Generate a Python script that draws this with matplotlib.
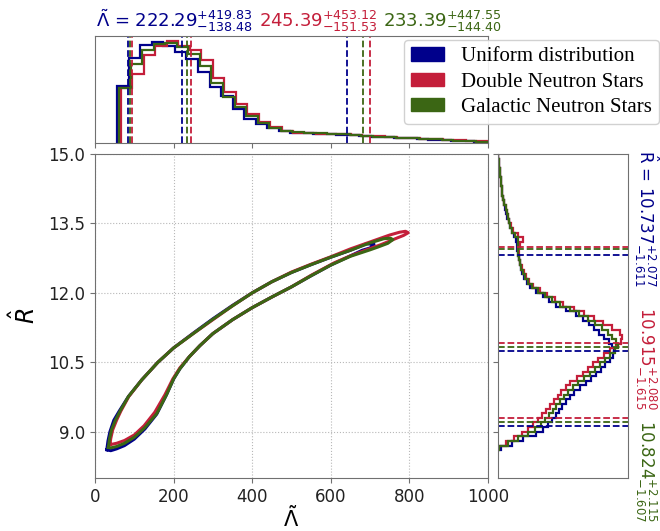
import matplotlib
matplotlib.use('Agg')
import matplotlib.pyplot as plt
import numpy as np
from matplotlib.patches import Patch

# ---------------- data ----------------
labels = ["Uniform distribution", "Double Neutron Stars", "Galactic Neutron Stars"]
colors = ["#00008B", "#C41E3A", "#3B6614"]

# Lambda-tilde histograms (step), bin start, bin width, heights (arbitrary units)
lam_bin_width = 29.3
lam_start_blue = 57.0
lam_start_red = 65.0
lam_start_green = 62.0
lam_hist_blue = [57, 85, 98, 101, 97, 91, 84, 71, 56, 47, 34, 24, 19, 15, 12, 10,
                 9.5, 9, 8.5, 8, 7.5, 6.5, 6, 5.5, 5, 4.5, 4, 3.3, 2.8, 2.2, 1.7, 1.3, 1.0]
lam_hist_red = [55, 69, 88, 97, 102, 97, 93, 83, 65, 51, 39, 29, 21, 16, 11.5, 10,
                9.7, 9.3, 9, 8.5, 8, 7.3, 6.6, 6, 5.4, 4.8, 4.2, 3.6, 3.0, 2.5, 2.0, 1.6, 1.2]
lam_hist_green = [55, 79, 93, 99, 100, 96, 89, 77, 60, 46, 36, 27, 20, 15, 12, 10.5,
                  10, 9.5, 9, 8.5, 7.8, 7, 6.4, 5.8, 5.2, 4.6, 4.0, 3.5, 3.0, 2.4, 1.9, 1.4, 1.1]

# Lambda-tilde quantiles (median, +, -)
lam_med = [222.29, 245.39, 233.39]
lam_plus = [419.83, 453.12, 447.55]
lam_minus = [138.48, 151.53, 144.40]

# R-hat histograms: bins of 0.1 from 8.6 to 15.0
r_bin_start = 8.6
r_bin_width = 0.1
r_hist_blue = [3, 14, 25, 38, 45, 50, 54, 58, 61, 64, 68, 72, 76, 82, 88, 93, 98, 103, 107, 112,
               115, 116, 114, 111, 106, 101, 96, 91, 85, 78, 68, 58, 51, 45, 38, 32, 29, 26, 24, 23,
               22, 21, 20, 19, 19, 18, 16, 14, 12, 11, 9, 8, 7, 6, 5, 4, 3.5, 3, 2.5, 2, 1.5, 1, 0.5, 0.3]
r_hist_red = [0, 8, 16, 24, 30, 35, 40, 44, 48, 52, 56, 60, 63, 68, 72, 79, 85, 90, 95, 100,
              106, 112, 118, 123, 124, 122, 114, 105, 96, 86, 76, 65, 57, 49, 42, 35, 31, 28, 26, 24,
              22, 21, 21, 20, 22, 25, 20, 15, 13, 11, 10, 9, 8, 6, 5, 4, 3.5, 3, 2.5, 2, 1.5, 1, 0.5, 0.3]
r_hist_green = [1, 10, 20, 30, 37, 43, 47, 51, 55, 58, 62, 66, 70, 75, 80, 86, 92, 97, 102, 107,
                112, 117, 120, 118, 114, 110, 104, 97, 90, 81, 72, 62, 54, 47, 40, 34, 30, 27, 25, 23,
                22, 21, 20, 20, 20, 20, 17, 14, 12, 11, 9.5, 8.5, 7.5, 6, 5, 4, 3.5, 3, 2.5, 2, 1.5, 1, 0.5, 0.3]

r_med = [10.737, 10.915, 10.824]
r_plus = [2.077, 2.080, 2.115]
r_minus = [1.611, 1.615, 1.607]

# 2D credible contours (closed outlines), Lambda-tilde and R-hat
cont_blue_lam = [30, 33, 38, 48, 62, 85, 119, 160, 200, 250, 300, 350, 400, 450, 500, 550, 600, 650, 690, 710,
                 700, 680, 650, 600, 550, 500, 450, 400, 350, 300, 267, 240, 216, 200, 182, 157, 127, 100, 75, 55, 40, 30]
cont_blue_r = [8.61, 8.80, 9.00, 9.25, 9.45, 9.76, 10.12, 10.50, 10.81, 11.13, 11.44, 11.73, 12.00, 12.24, 12.44, 12.61, 12.77, 12.92, 13.06, 13.05,
               12.97, 12.92, 12.80, 12.60, 12.37, 12.13, 11.91, 11.68, 11.42, 11.12, 10.86, 10.62, 10.36, 10.14, 9.80, 9.38, 9.06, 8.84, 8.70, 8.63, 8.59, 8.61]
cont_red_lam = [38, 40, 45, 55, 66, 86, 119, 160, 200, 250, 300, 350, 400, 450, 500, 550, 600, 650, 700, 750, 775, 790, 797,
                785, 770, 727, 694, 650, 609, 550, 500, 450, 400, 350, 300, 267, 240, 216, 198, 178, 152, 125, 100, 75, 55, 38]
cont_red_r = [8.72, 8.85, 9.04, 9.25, 9.45, 9.76, 10.12, 10.50, 10.81, 11.12, 11.42, 11.72, 12.00, 12.24, 12.45, 12.62, 12.78, 12.95, 13.10, 13.25, 13.31, 13.33, 13.30,
              13.24, 13.19, 13.04, 12.94, 12.80, 12.65, 12.38, 12.13, 11.91, 11.68, 11.42, 11.12, 10.86, 10.62, 10.38, 10.14, 9.80, 9.42, 9.13, 8.93, 8.81, 8.75, 8.72]
cont_green_lam = [34, 37, 42, 52, 64, 85, 119, 160, 200, 250, 300, 350, 400, 450, 500, 550, 600, 650, 700, 735, 752, 758,
                  745, 720, 700, 650, 600, 550, 500, 450, 400, 350, 300, 267, 240, 216, 200, 182, 157, 127, 100, 75, 55, 40, 34]
cont_green_r = [8.66, 8.85, 9.04, 9.25, 9.45, 9.76, 10.12, 10.50, 10.81, 11.12, 11.43, 11.72, 12.00, 12.24, 12.44, 12.61, 12.77, 12.92, 13.08, 13.17, 13.18, 13.15,
                13.07, 12.99, 12.93, 12.79, 12.60, 12.37, 12.13, 11.91, 11.68, 11.42, 11.12, 10.86, 10.62, 10.36, 10.14, 9.80, 9.39, 9.09, 8.88, 8.75, 8.68, 8.65, 8.66]

x_ticks = [0, 200, 400, 600, 800, 1000]
y_ticks = [9.0, 10.5, 12.0, 13.5, 15.0]

# ---------------- figure ----------------
W, H = 660, 531
fig = plt.figure(figsize=(W / 100, H / 100), dpi=100)

def fa(x0, y0, x1, y1):
    return [x0 / W, 1 - y1 / H, (x1 - x0) / W, (y1 - y0) / H]

ax_main = fig.add_axes(fa(95, 154, 488, 478))
ax_top = fig.add_axes(fa(95, 36, 488, 143))
ax_right = fig.add_axes(fa(498, 154, 628, 478))

spine_col = "#707070"
for ax in (ax_main, ax_top, ax_right):
    for s in ax.spines.values():
        s.set_color(spine_col)
    ax.tick_params(color=spine_col, labelcolor="#222222", labelsize=12)

# main contours
ax_main.plot(cont_blue_lam, cont_blue_r, color=colors[0], lw=2.2)
ax_main.plot(cont_red_lam, cont_red_r, color=colors[1], lw=2.2)
ax_main.plot(cont_green_lam, cont_green_r, color=colors[2], lw=2.2)
ax_main.set_xlim(0, 1000)
ax_main.set_ylim(8.0, 15.0)
ax_main.set_xticks(x_ticks)
ax_main.set_yticks(y_ticks)
ax_main.set_yticklabels([f"{v:.1f}" for v in y_ticks])
ax_main.grid(True, ls=":", color="#b8b8b8", lw=0.8)
ax_main.set_axisbelow(True)
ax_main.set_xlabel(r"$\tilde{\Lambda}$", fontsize=15)
ax_main.xaxis.set_label_coords(0.5, -0.085)
ax_main.xaxis.label.set_verticalalignment("top")
ax_main.set_ylabel(r"$\hat{R}$", fontsize=17, labelpad=6)

# top histogram
lam_starts = [lam_start_blue, lam_start_red, lam_start_green]
lam_hists = [lam_hist_blue, lam_hist_red, lam_hist_green]
for st, hv, c in zip(lam_starts, lam_hists, colors):
    edges = st + lam_bin_width * np.arange(len(hv) + 1)
    ax_top.stairs(hv, edges, color=c, lw=1.6, baseline=0)
for m, p, mi, c in zip(lam_med, lam_plus, lam_minus, colors):
    for v in (m - mi, m, m + p):
        ax_top.axvline(v, color=c, ls="--", lw=1.3)
ax_top.set_xlim(0, 1000)
ax_top.set_ylim(0, 107)
ax_top.set_xticks(x_ticks)
ax_top.set_xticklabels([])
ax_top.set_yticks([])

# right histogram
r_hists = [r_hist_blue, r_hist_red, r_hist_green]
for hv, c in zip(r_hists, colors):
    edges = r_bin_start + r_bin_width * np.arange(len(hv) + 1)
    ax_right.stairs(hv, edges, color=c, lw=1.6, baseline=0, orientation="horizontal")
for m, p, mi, c in zip(r_med, r_plus, r_minus, colors):
    for v in (m - mi, m, m + p):
        ax_right.axhline(v, color=c, ls="--", lw=1.3)
ax_right.set_ylim(8.0, 15.0)
ax_right.set_xlim(0, 130)
ax_right.set_yticks(y_ticks)
ax_right.set_yticklabels([])
ax_right.set_xticks([])

# titles (top)
tsize = 13
fig.text(96 / W, 1 - 21 / H,
         r"$\tilde{\Lambda}$ = " + rf"${lam_med[0]:.2f}^{{+{lam_plus[0]:.2f}}}_{{-{lam_minus[0]:.2f}}}$",
         color=colors[0], fontsize=tsize, ha="left", va="center")
fig.text(259 / W, 1 - 21 / H,
         rf"${lam_med[1]:.2f}^{{+{lam_plus[1]:.2f}}}_{{-{lam_minus[1]:.2f}}}$",
         color=colors[1], fontsize=tsize, ha="left", va="center")
fig.text(383 / W, 1 - 21 / H,
         rf"${lam_med[2]:.2f}^{{+{lam_plus[2]:.2f}}}_{{-{lam_minus[2]:.2f}}}$",
         color=colors[2], fontsize=tsize, ha="left", va="center")

# titles (right, rotated)
rsize = 12
fig.text(646 / W, 1 - 150 / H,
         r"$\hat{\mathrm{R}}$ = " + rf"${r_med[0]:.3f}^{{+{r_plus[0]:.3f}}}_{{-{r_minus[0]:.3f}}}$",
         color=colors[0], fontsize=rsize, rotation=-90, ha="center", va="top")
fig.text(646 / W, 1 - 307 / H,
         rf"${r_med[1]:.3f}^{{+{r_plus[1]:.3f}}}_{{-{r_minus[1]:.3f}}}$",
         color=colors[1], fontsize=rsize, rotation=-90, ha="center", va="top")
fig.text(646 / W, 1 - 420 / H,
         rf"${r_med[2]:.3f}^{{+{r_plus[2]:.3f}}}_{{-{r_minus[2]:.3f}}}$",
         color=colors[2], fontsize=rsize, rotation=-90, ha="center", va="top")

# legend
handles = [Patch(facecolor=c, edgecolor=c) for c in colors]
fig.legend(handles, labels, loc="upper right", bbox_to_anchor=(659 / W, 1 - 40 / H),
           borderaxespad=0, prop={"family": "Liberation Serif", "size": 15},
           handlelength=1.6, handleheight=0.6, labelspacing=0.3, borderpad=0.35,
           framealpha=0.9)

fig.savefig("out.png", dpi=100)
